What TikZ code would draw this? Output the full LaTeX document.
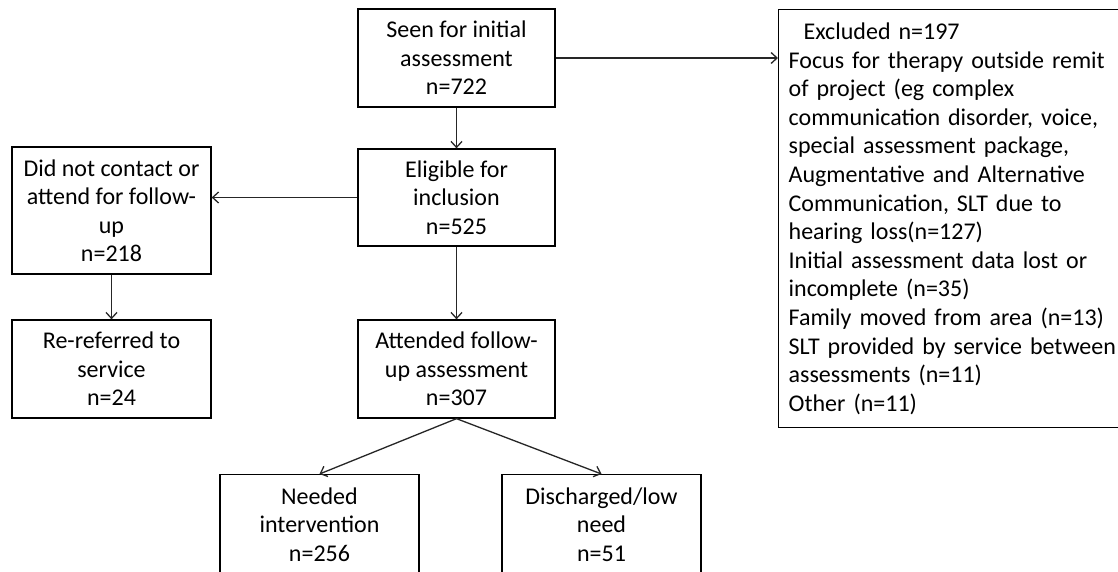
\documentclass[tikz,border=0pt]{standalone}
\usepackage{fontspec}
\setmainfont{Carlito}
\usetikzlibrary{arrows.meta}
\begin{document}
\begin{tikzpicture}[x=1pt,y=-1pt,
  box/.style={draw=black,line width=1.3pt,align=center,inner sep=0pt,
    font={\fontsize{24}{28.5}\selectfont}},
  arr/.style={draw=black!85,line width=1.3pt,-{Straight Barb[length=6pt,width=11pt,line width=1.3pt]}}]
\fill[white] (0,0) rectangle (1118,571);
\useasboundingbox (0,0) rectangle (1118,571);
\node[box,minimum width=197pt,minimum height=98pt] (seen) at (456.5,58)
  {Seen for initial\\assessment\\n=722};
\node[box,anchor=north west,align=left,text width=340pt,inner xsep=10pt,
  minimum height=418pt,font={\fontsize{24}{28.6}\selectfont}] (excl) at (778,9)
  {\hspace*{15pt}Excluded n=197\\
   Focus for therapy outside remit\\
   of project (eg complex\\
   communication disorder, voice,\\
   special assessment package,\\
   Augmentative and Alternative\\
   Communication, SLT due to\\
   hearing loss(n=127)\\
   Initial assessment data lost or\\
   incomplete (n=35)\\
   Family moved from area (n=13)\\
   SLT provided by service between\\
   assessments (n=11)\\
   Other (n=11)};
\node[box,minimum width=197pt,minimum height=97pt] (elig) at (456.5,197.5)
  {Eligible for\\inclusion\\n=525};
\node[box,minimum width=199pt,minimum height=127pt] (didnot) at (111.5,210.5)
  {Did not contact or\\attend for follow-\\up\\n=218};
\node[box,minimum width=199pt,minimum height=98pt] (reref) at (111.5,369)
  {Re-referred to\\service\\n=24};
\node[box,minimum width=197pt,minimum height=98pt] (att) at (456.5,369)
  {Attended follow-\\up assessment\\n=307};
\node[box,anchor=north,minimum width=199pt,minimum height=100pt] (needed) at (319.5,474)
  {Needed\\intervention\\n=256};
\node[box,anchor=north,minimum width=199pt,minimum height=100pt] (disch) at (601.5,474)
  {Discharged/low\\need\\n=51};
\draw[arr] (seen.east) -- (excl.west |- seen.east);
\draw[arr] (seen) -- (elig);
\draw[arr] (elig.west) -- (elig.west -| didnot.east);
\draw[arr] (didnot) -- (reref);
\draw[arr] (elig) -- (att);
\draw[arr] (att.south) -- (needed.north);
\draw[arr] (att.south) -- (disch.north);
\end{tikzpicture}
\end{document}
